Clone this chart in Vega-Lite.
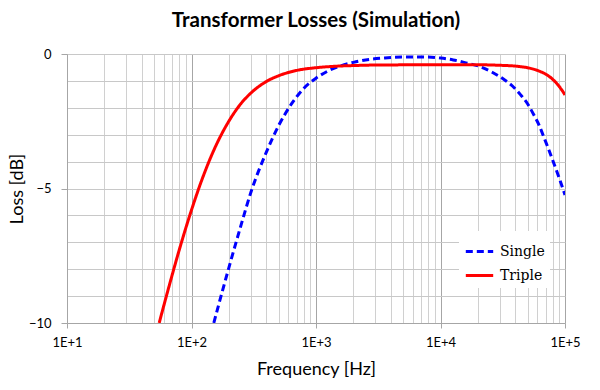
{
  "$schema": "https://vega.github.io/schema/vega-lite/v6.json",
  "width": 498,
  "height": 269,
  "autosize": "none",
  "padding": {"left": 67, "top": 54, "right": 35, "bottom": 67},
  "background": "white",
  "title": {"text": "Transformer Losses (Simulation)", "font": "Lato", "fontWeight": "bold", "fontSize": 20.5, "color": "#000000", "offset": 17, "anchor": "middle"},
  "config": {"view": {"stroke": null}},
  "data": {"values": [
    {"series": "Single", "freq": 151, "loss": -10},
    {"series": "Single", "freq": 175, "loss": -8.9},
    {"series": "Single", "freq": 200, "loss": -7.93},
    {"series": "Single", "freq": 250, "loss": -6.36},
    {"series": "Single", "freq": 300, "loss": -5.14},
    {"series": "Single", "freq": 400, "loss": -3.64},
    {"series": "Single", "freq": 500, "loss": -2.67},
    {"series": "Single", "freq": 650, "loss": -1.79},
    {"series": "Single", "freq": 800, "loss": -1.27},
    {"series": "Single", "freq": 1000, "loss": -0.9},
    {"series": "Single", "freq": 1250, "loss": -0.63},
    {"series": "Single", "freq": 1600, "loss": -0.43},
    {"series": "Single", "freq": 2000, "loss": -0.31},
    {"series": "Single", "freq": 2500, "loss": -0.22},
    {"series": "Single", "freq": 3500, "loss": -0.15},
    {"series": "Single", "freq": 5000, "loss": -0.11},
    {"series": "Single", "freq": 7000, "loss": -0.11},
    {"series": "Single", "freq": 10000, "loss": -0.15},
    {"series": "Single", "freq": 12650, "loss": -0.22},
    {"series": "Single", "freq": 16000, "loss": -0.33},
    {"series": "Single", "freq": 20800, "loss": -0.47},
    {"series": "Single", "freq": 26000, "loss": -0.68},
    {"series": "Single", "freq": 32000, "loss": -0.93},
    {"series": "Single", "freq": 38000, "loss": -1.2},
    {"series": "Single", "freq": 43700, "loss": -1.5},
    {"series": "Single", "freq": 50000, "loss": -1.85},
    {"series": "Single", "freq": 56000, "loss": -2.25},
    {"series": "Single", "freq": 62000, "loss": -2.65},
    {"series": "Single", "freq": 67500, "loss": -3.08},
    {"series": "Single", "freq": 74000, "loss": -3.55},
    {"series": "Single", "freq": 81300, "loss": -4.06},
    {"series": "Single", "freq": 90000, "loss": -4.62},
    {"series": "Single", "freq": 100000, "loss": -5.24},
    {"series": "Triple", "freq": 55, "loss": -10},
    {"series": "Triple", "freq": 65, "loss": -8.75},
    {"series": "Triple", "freq": 80, "loss": -7.26},
    {"series": "Triple", "freq": 100, "loss": -5.8},
    {"series": "Triple", "freq": 120, "loss": -4.73},
    {"series": "Triple", "freq": 150, "loss": -3.61},
    {"series": "Triple", "freq": 200, "loss": -2.49},
    {"series": "Triple", "freq": 250, "loss": -1.84},
    {"series": "Triple", "freq": 300, "loss": -1.45},
    {"series": "Triple", "freq": 400, "loss": -1.02},
    {"series": "Triple", "freq": 500, "loss": -0.81},
    {"series": "Triple", "freq": 700, "loss": -0.61},
    {"series": "Triple", "freq": 1000, "loss": -0.51},
    {"series": "Triple", "freq": 1500, "loss": -0.45},
    {"series": "Triple", "freq": 2000, "loss": -0.43},
    {"series": "Triple", "freq": 3000, "loss": -0.41},
    {"series": "Triple", "freq": 10000, "loss": -0.4},
    {"series": "Triple", "freq": 20000, "loss": -0.4},
    {"series": "Triple", "freq": 30000, "loss": -0.42},
    {"series": "Triple", "freq": 40000, "loss": -0.45},
    {"series": "Triple", "freq": 50000, "loss": -0.51},
    {"series": "Triple", "freq": 60000, "loss": -0.61},
    {"series": "Triple", "freq": 70000, "loss": -0.75},
    {"series": "Triple", "freq": 80000, "loss": -0.95},
    {"series": "Triple", "freq": 90000, "loss": -1.21},
    {"series": "Triple", "freq": 100000, "loss": -1.52}
  ]},
  "mark": {"type": "line", "strokeWidth": 3, "interpolate": "monotone", "clip": true},
  "encoding": {
    "x": {
      "field": "freq", "type": "quantitative",
      "scale": {"type": "log", "domain": [10, 100000], "nice": false},
      "axis": {
        "title": "Frequency [Hz]",
        "titleFont": "Lato", "titleFontSize": 18, "titleFontWeight": "normal", "titleColor": "#000000", "titlePadding": 11,
        "values": [10,20,30,40,50,60,70,80,90,100,200,300,400,500,600,700,800,900,1000,2000,3000,4000,5000,6000,7000,8000,9000,10000,20000,30000,40000,50000,60000,70000,80000,90000,100000],
        "labelExpr": "abs(log(datum.value)/LN10 - round(log(datum.value)/LN10)) < 0.000001 ? '1E+' + round(log(datum.value)/LN10) : ''",
        "labelFont": "Lato", "labelFontSize": 13, "labelColor": "#000000", "labelPadding": 8, "labelOverlap": false, "labelFlush": false,
        "grid": true,
        "gridColor": {"condition": {"test": "abs(log(datum.value)/LN10 - round(log(datum.value)/LN10)) < 0.000001", "value": "#a6a6a6"}, "value": "#d0d0d0"},
        "gridWidth": 1,
        "tickOpacity": {"condition": {"test": "abs(log(datum.value)/LN10 - round(log(datum.value)/LN10)) < 0.000001", "value": 1}, "value": 0},
        "tickColor": "#a6a6a6", "tickSize": 5,
        "domainColor": "#a6a6a6"
      }
    },
    "y": {
      "field": "loss", "type": "quantitative",
      "scale": {"domain": [-10, 0], "nice": false},
      "axis": {
        "title": "Loss [dB]",
        "titleFont": "Lato", "titleFontSize": 18, "titleFontWeight": "normal", "titleColor": "#000000", "titlePadding": 2,
        "values": [-10,-9,-8,-7,-6,-5,-4,-3,-2,-1,0],
        "labelExpr": "datum.value % 5 == 0 ? datum.label : ''",
        "labelFont": "Lato", "labelFontSize": 13, "labelColor": "#000000", "labelPadding": 10, "labelOverlap": false,
        "grid": true, "gridColor": "#c8c8c8",
        "tickOpacity": {"condition": {"test": "datum.value % 5 == 0", "value": 1}, "value": 0},
        "tickColor": "#a6a6a6", "tickSize": 6,
        "domainColor": "#a6a6a6"
      }
    },
    "color": {
      "field": "series", "type": "nominal",
      "scale": {"domain": ["Single", "Triple"], "range": ["#0000ff", "#ff0000"]},
      "legend": {
        "title": null, "orient": "none", "legendX": 392, "legendY": 177,
        "fillColor": "white", "padding": 5,
        "symbolType": "stroke", "symbolSize": 750, "symbolStrokeWidth": 3,
        "labelFont": "DejaVu Serif", "labelFontSize": 14, "labelColor": "#000000",
        "rowPadding": 1, "labelOffset": 5
      }
    },
    "strokeDash": {
      "field": "series", "type": "nominal",
      "scale": {"domain": ["Single", "Triple"], "range": [[7, 4], [1, 0]]},
      "legend": {
        "title": null, "orient": "none", "legendX": 392, "legendY": 177,
        "fillColor": "white", "padding": 5,
        "symbolType": "stroke", "symbolSize": 750, "symbolStrokeWidth": 3,
        "labelFont": "DejaVu Serif", "labelFontSize": 14, "labelColor": "#000000",
        "rowPadding": 1, "labelOffset": 5
      }
    }
  }
}
